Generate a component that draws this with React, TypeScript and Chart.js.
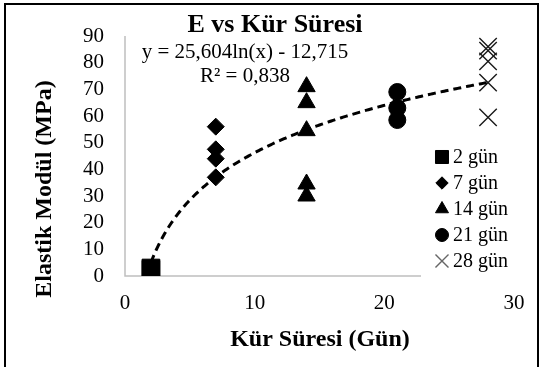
import React, { useEffect, useRef } from "react";
import { Chart, registerables } from "chart.js";
import { drawPoint } from "chart.js/helpers";

Chart.register(...registerables);

// ---------- data ----------
const CHART_TITLE = "E vs Kür Süresi";
const X_TITLE = "Kür Süresi (Gün)";
const Y_TITLE = "Elastik Modül (MPa)";
const EQUATION = "y = 25,604ln(x) - 12,715";
const R_SQUARED = "R² = 0,838";

// logarithmic trendline coefficients, as displayed on the chart
const TREND_A = 25.604;
const TREND_B = -12.715;
const TREND_X_START = 2;
const TREND_X_END = 28;

const SERIES_LABELS = ["2 gün", "7 gün", "14 gün", "21 gün", "28 gün"];
const SERIES_X = [2, 7, 14, 21, 28];
const E_2 = [2.5, 3];
const E_7 = [56, 47.5, 44, 37];
const E_14 = [71, 65, 54.5, 34.5, 30];
const E_21 = [69, 63, 58.5];
const E_28 = [86, 84.5, 80.5, 72.5, 59.5];
const SERIES_VALUES = [E_2, E_7, E_14, E_21, E_28];

const X_MIN = 0;
const X_MAX = 30;
const X_STEP = 10;
const Y_MIN = 0;
const Y_MAX = 90;
const Y_STEP = 10;

// ---------- styles ----------
const FONT = "'Liberation Serif', 'Times New Roman', serif";
const MARKERS = [
  { pointStyle: "rect", radius: 12.5, legendRadius: 9.2, color: "#000", borderWidth: 1 },
  { pointStyle: "rectRot", radius: 8.5, legendRadius: 6.2, color: "#000", borderWidth: 1 },
  { pointStyle: "triangle", radius: 10, legendRadius: 7.5, color: "#000", borderWidth: 1 },
  { pointStyle: "circle", radius: 8.5, legendRadius: 6.5, color: "#000", borderWidth: 1 },
  { pointStyle: "crossRot", radius: 12.3, legendRadius: 9.2, color: "#1a1a1a", borderWidth: 1.4 },
];

function buildTrend() {
  const pts: { x: number; y: number }[] = [];
  const n = 200;
  for (let i = 0; i <= n; i++) {
    const x = TREND_X_START + ((TREND_X_END - TREND_X_START) * i) / n;
    pts.push({ x, y: TREND_A * Math.log(x) + TREND_B });
  }
  return pts;
}

const decorPlugin = {
  id: "decor",
  beforeDatasetsDraw(chart: any) {
    const ctx = chart.ctx;
    const area = chart.chartArea;
    ctx.save();
    // outer frame
    ctx.strokeStyle = "#000";
    ctx.lineWidth = 2;
    ctx.strokeRect(5, 4, 533, 400);
    // axis lines
    ctx.strokeStyle = "#bfbfbf";
    ctx.lineWidth = 1.5;
    ctx.beginPath();
    ctx.moveTo(area.left, area.top);
    ctx.lineTo(area.left, area.bottom);
    ctx.lineTo(area.left + (area.right - area.left) * 0.761, area.bottom);
    ctx.stroke();
    ctx.restore();
  },
  afterDraw(chart: any) {
    const ctx = chart.ctx;
    ctx.save();
    ctx.fillStyle = "#000";
    ctx.textAlign = "center";
    ctx.textBaseline = "middle";
    // title
    ctx.font = `bold 26px ${FONT}`;
    ctx.fillText(CHART_TITLE, 275, 25);
    // x title
    ctx.font = `bold 24px ${FONT}`;
    ctx.fillText(X_TITLE, 320, 340);
    // y title
    ctx.save();
    ctx.translate(45, 189);
    ctx.rotate(-Math.PI / 2);
    ctx.fillText(Y_TITLE, 0, 0);
    ctx.restore();
    // equation
    ctx.font = `21px ${FONT}`;
    ctx.fillText(EQUATION, 245, 52);
    ctx.fillText(R_SQUARED, 245, 76);
    // legend
    ctx.font = `20px ${FONT}`;
    ctx.textAlign = "left";
    SERIES_LABELS.forEach((label, i) => {
      const m = MARKERS[i];
      const y = 157 + 26 * i;
      ctx.fillStyle = m.pointStyle === "crossRot" ? "#666" : m.color;
      ctx.strokeStyle = m.pointStyle === "crossRot" ? "#666" : m.color;
      ctx.lineWidth = m.borderWidth;
      drawPoint(ctx, { pointStyle: m.pointStyle, radius: m.legendRadius, rotation: 0, borderWidth: m.borderWidth } as any, 442, y);
      ctx.fillStyle = "#000";
      ctx.fillText(label, 453, y + 1);
    });
    ctx.restore();
  },
};

export default function App() {
  const canvasRef = useRef<HTMLCanvasElement | null>(null);

  useEffect(() => {
    const canvas = canvasRef.current;
    if (!canvas) return;

    const scatterSets = SERIES_LABELS.map((label, i) => ({
      type: "scatter" as const,
      label,
      data: SERIES_VALUES[i].map((v) => ({ x: SERIES_X[i], y: v })),
      pointStyle: MARKERS[i].pointStyle,
      pointRadius: MARKERS[i].radius,
      pointBackgroundColor: MARKERS[i].color,
      pointBorderColor: MARKERS[i].color,
      pointBorderWidth: MARKERS[i].borderWidth,
      showLine: false,
      order: 1,
    }));

    const trendSet = {
      type: "scatter" as const,
      label: "trend",
      data: buildTrend(),
      showLine: true,
      pointRadius: 0,
      borderColor: "#000",
      borderWidth: 3,
      borderDash: [8, 5],
      tension: 0,
      order: 0,
    };

    const chart = new Chart(canvas, {
      type: "scatter",
      data: { datasets: [...scatterSets, trendSet] as any },
      options: {
        animation: false,
        responsive: false,
        maintainAspectRatio: false,
        events: [],
        layout: { padding: { top: 36, right: 29, left: 0, bottom: 0 } },
        plugins: {
          legend: { display: false },
          title: { display: false },
          tooltip: { enabled: false },
        },
        scales: {
          x: {
            type: "linear",
            min: X_MIN,
            max: X_MAX,
            ticks: {
              stepSize: X_STEP,
              padding: 15,
              color: "#000",
              font: { family: FONT, size: 21 },
              maxRotation: 0,
              autoSkip: false,
            },
            grid: { display: false, drawTicks: false },
            border: { display: false },
            afterFit: (scale: any) => {
              scale.height = 91;
            },
          },
          y: {
            type: "linear",
            min: Y_MIN,
            max: Y_MAX,
            ticks: {
              stepSize: Y_STEP,
              padding: 21,
              color: "#000",
              font: { family: FONT, size: 21 },
              autoSkip: false,
            },
            grid: { display: false, drawTicks: false },
            border: { display: false },
            afterFit: (scale: any) => {
              scale.width = 125;
            },
          },
        },
      } as any,
      plugins: [decorPlugin],
    });

    return () => chart.destroy();
  }, []);

  return (
    <div style={{ position: "fixed", left: 0, top: 0, width: 543, height: 367, background: "#fff" }}>
      <canvas ref={canvasRef} width={543} height={367} style={{ width: 543, height: 367, display: "block" }} />
    </div>
  );
}
